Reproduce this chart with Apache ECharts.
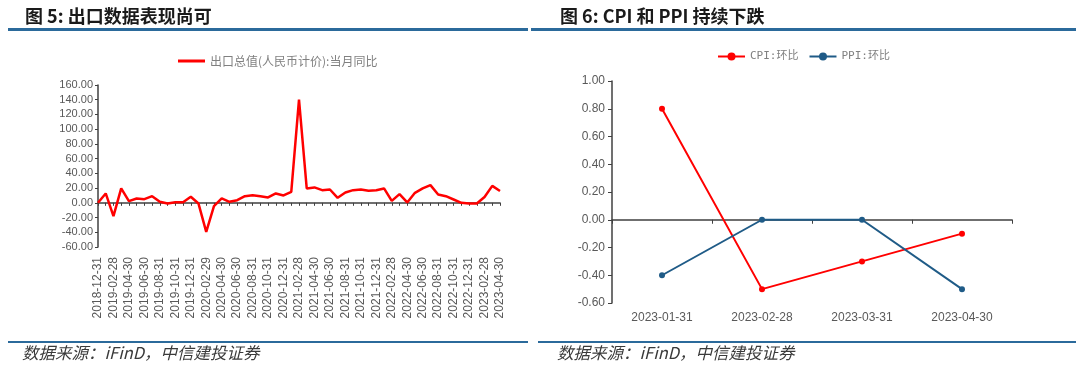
<!DOCTYPE html>
<html><head><meta charset="utf-8">
<script src="https://cdn.jsdelivr.net/npm/echarts@6/dist/echarts.min.js"></script>
<style>html,body{margin:0;padding:0;background:#fff}#c{width:1080px;height:374px}</style>
</head><body><div id="c"></div>
<script>
// Left chart: export YoY (RMB), monthly
const exportDates = [
 '2018-12-31','2019-01-31','2019-02-28','2019-03-31','2019-04-30','2019-05-31','2019-06-30','2019-07-31','2019-08-31','2019-09-30','2019-10-31','2019-11-30','2019-12-31',
 '2020-01-31','2020-02-29','2020-03-31','2020-04-30','2020-05-31','2020-06-30','2020-07-31','2020-08-31','2020-09-30','2020-10-31','2020-11-30','2020-12-31',
 '2021-01-31','2021-02-28','2021-03-31','2021-04-30','2021-05-31','2021-06-30','2021-07-31','2021-08-31','2021-09-30','2021-10-31','2021-11-30','2021-12-31',
 '2022-01-31','2022-02-28','2022-03-31','2022-04-30','2022-05-31','2022-06-30','2022-07-31','2022-08-31','2022-09-30','2022-10-31','2022-11-30','2022-12-31',
 '2023-01-31','2023-02-28','2023-03-31','2023-04-30'
];
const exportYoY = [
 0.0, 12.7, -18.0, 19.5, 2.3, 5.9, 5.0, 9.0, 1.4, -0.9, 0.9, 0.9, 8.2,
 -1.0, -39.5, -4.5, 5.9, 1.4, 3.6, 9.0, 10.4, 9.0, 7.3, 12.7, 10.0,
 15.0, 140.0, 19.5, 20.9, 17.2, 18.1, 6.8, 14.0, 17.2, 18.1, 16.3, 17.0,
 19.5, 2.7, 11.8, 0.5, 13.6, 19.5, 24.0, 11.3, 9.0, 4.5, 0.0, -1.0,
 -1.0, 8.0, 23.0, 16.0
];
const exportSeriesName = '出口总值(人民币计价):当月同比';

// Right chart: CPI and PPI MoM
const priceDates = ['2023-01-31','2023-02-28','2023-03-31','2023-04-30'];
const cpiMoM = [0.8, -0.5, -0.3, -0.1];
const ppiMoM = [-0.4, 0.0, 0.0, -0.5];
const cpiName = 'CPI:环比';
const ppiName = 'PPI:环比';

const leftTicks = [-60, 160, 20];   // min, max, interval
const rightTicks = [-0.6, 1.0, 0.2];

const axisColor = '#404040';
const labelColor = '#595959';
const font = 'Liberation Sans, Arial, sans-serif';

const chart = echarts.init(document.getElementById('c'), null, {renderer: 'canvas'});
const option = {
  animation: false,
  backgroundColor: '#fff',
  title: [
    {text: '图 5: 出口数据表现尚可', left: 20, top: 2,
     textStyle: {fontSize: 18, fontWeight: 'bold', color: '#1a1a1a', fontFamily: 'Noto Sans CJK SC'}},
    {text: '图 6: CPI 和 PPI 持续下跌', left: 555, top: 2,
     textStyle: {fontSize: 18, fontWeight: 'bold', color: '#1a1a1a', fontFamily: 'Noto Sans CJK SC'}}
  ],
  graphic: [
    {type: 'rect', shape: {x: 8, y: 28, width: 520, height: 3}, style: {fill: '#2B6A9B'}},
    {type: 'rect', shape: {x: 531, y: 28, width: 545, height: 3}, style: {fill: '#2B6A9B'}},
    {type: 'rect', shape: {x: 8, y: 341, width: 520, height: 2}, style: {fill: '#2B6A9B'}},
    {type: 'rect', shape: {x: 538, y: 341, width: 538, height: 2}, style: {fill: '#2B6A9B'}},
    {type: 'text', left: 22, top: 344, style: {text: '数据来源：iFinD，中信建投证券', fontSize: 16.5, fontStyle: 'italic', fill: '#3a3a3a', fontFamily: 'Noto Sans CJK SC'}},
    {type: 'text', left: 557, top: 344, style: {text: '数据来源：iFinD，中信建投证券', fontSize: 16.5, fontStyle: 'italic', fill: '#3a3a3a', fontFamily: 'Noto Sans CJK SC'}}
  ],
  legend: [
    {data: [exportSeriesName], left: 173, top: 50, icon: 'rect', itemWidth: 27, itemHeight: 3, itemGap: 4,
     textStyle: {fontSize: 12, color: '#808080', fontFamily: 'Noto Sans CJK SC'}},
    {data: [cpiName, ppiName], left: 712, top: 46, itemWidth: 27, itemHeight: 10, itemGap: 10,
     textStyle: {fontSize: 11, color: '#808080', fontFamily: 'DejaVu Sans Mono, Noto Sans CJK SC'}}
  ],
  grid: [
    {left: 98, right: 580, top: 85, bottom: 127},
    {left: 612, right: 68, top: 81, bottom: 71}
  ],
  xAxis: [
    {type: 'category', gridIndex: 0, data: exportDates, boundaryGap: false,
     axisLine: {onZero: true, lineStyle: {color: axisColor, width: 1.5}},
     axisTick: {show: true, interval: 0, length: 3, lineStyle: {color: axisColor}},
     axisLabel: {show: false}, splitLine: {show: false}},
    {type: 'category', gridIndex: 0, data: exportDates, boundaryGap: false, position: 'bottom',
     axisLine: {show: false, onZero: false}, axisTick: {show: false},
     axisLabel: {interval: 1, rotate: 90, fontSize: 12, color: labelColor, fontFamily: font, margin: 10},
     splitLine: {show: false}},
    {type: 'category', gridIndex: 1, data: priceDates, boundaryGap: true,
     axisLine: {onZero: true, lineStyle: {color: axisColor, width: 1.5}},
     axisTick: {show: true, length: 4, lineStyle: {color: axisColor}},
     axisLabel: {show: false}, splitLine: {show: false}},
    {type: 'category', gridIndex: 1, data: priceDates, boundaryGap: true, position: 'bottom',
     axisLine: {show: false, onZero: false}, axisTick: {show: false},
     axisLabel: {fontSize: 12, color: labelColor, fontFamily: font, margin: 9},
     splitLine: {show: false}}
  ],
  yAxis: [
    {type: 'value', gridIndex: 0, min: leftTicks[0], max: leftTicks[1], interval: leftTicks[2],
     axisLine: {show: true, lineStyle: {color: axisColor, width: 1.5}},
     axisTick: {show: true, length: 3, lineStyle: {color: axisColor}},
     axisLabel: {fontSize: 11, color: labelColor, fontFamily: font, margin: 5, formatter: v => v.toFixed(2)},
     splitLine: {show: false}},
    {type: 'value', gridIndex: 1, min: rightTicks[0], max: rightTicks[1], interval: rightTicks[2],
     axisLine: {show: true, lineStyle: {color: axisColor, width: 1.5}},
     axisTick: {show: true, length: 4, lineStyle: {color: axisColor}},
     axisLabel: {fontSize: 12, color: labelColor, fontFamily: font, margin: 7, formatter: v => v.toFixed(2)},
     splitLine: {show: false}}
  ],
  series: [
    {name: exportSeriesName, type: 'line', xAxisIndex: 0, yAxisIndex: 0, data: exportYoY,
     symbol: 'none', lineStyle: {color: '#FF0000', width: 2.5}, itemStyle: {color: '#FF0000'}},
    {name: cpiName, type: 'line', xAxisIndex: 2, yAxisIndex: 1, data: cpiMoM,
     symbol: 'circle', symbolSize: 6, lineStyle: {color: '#FF0000', width: 2}, itemStyle: {color: '#FF0000'}},
    {name: ppiName, type: 'line', xAxisIndex: 2, yAxisIndex: 1, data: ppiMoM,
     symbol: 'circle', symbolSize: 6, lineStyle: {color: '#1F5B87', width: 2}, itemStyle: {color: '#1F5B87'}}
  ]
};
chart.setOption(option);
</script></body></html>
